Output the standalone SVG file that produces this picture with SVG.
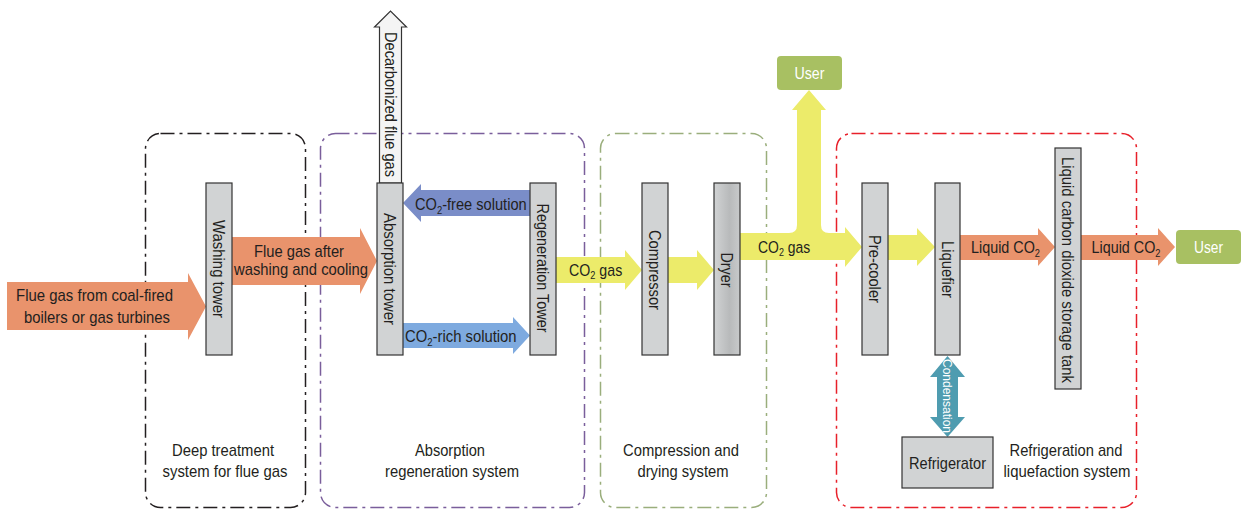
<svg xmlns="http://www.w3.org/2000/svg" width="1241" height="510" viewBox="0 0 1241 510">
<style>
.t{font-family:"Liberation Sans Narrow","Liberation Sans",Arial,sans-serif;font-size:17px;fill:#231f20;text-anchor:middle}
.s{text-anchor:start}
.w{fill:#ffffff}
.tower{fill:#d1d3d4;stroke:#333333;stroke-width:1.2}
.grp{fill:none;stroke-width:1.5;stroke-dasharray:14 5 3 5}
.or{fill:#e9936c}
.ye{fill:#eceb6a}
.sub{font-size:11px}
</style>
<defs>
<linearGradient id="dryg" x1="0" x2="1" y1="0" y2="0">
<stop offset="0" stop-color="#d1d3d4"/><stop offset="0.6" stop-color="#b8babb"/><stop offset="1" stop-color="#c8cacb"/>
</linearGradient>
</defs>
<rect width="1241" height="510" fill="#ffffff"/>

<g id="groups">
<rect id="g-deep" class="grp" x="145.5" y="133.5" width="160" height="374" rx="15" stroke="#231f20"/>
<rect id="g-abs" class="grp" x="320.5" y="133.5" width="264" height="374" rx="15" stroke="#7a5e9b"/>
<rect id="g-comp" class="grp" x="600.5" y="133.5" width="166" height="374" rx="15" stroke="#9aae7c"/>
<rect id="g-refr" class="grp" x="836.5" y="133.5" width="300" height="374" rx="15" stroke="#e8202a"/>
<text class="t" x="223" y="456" textLength="102" lengthAdjust="spacingAndGlyphs">Deep treatment</text>
<text class="t" x="225" y="477" textLength="125" lengthAdjust="spacingAndGlyphs">system for flue gas</text>
<text class="t" x="450" y="456" textLength="70" lengthAdjust="spacingAndGlyphs">Absorption</text>
<text class="t" x="452" y="477" textLength="134" lengthAdjust="spacingAndGlyphs">regeneration system</text>
<text class="t" x="681" y="456" textLength="116" lengthAdjust="spacingAndGlyphs">Compression and</text>
<text class="t" x="683" y="477" textLength="91" lengthAdjust="spacingAndGlyphs">drying system</text>
<text class="t" x="1066" y="456" textLength="113" lengthAdjust="spacingAndGlyphs">Refrigeration and</text>
<text class="t" x="1067" y="477" textLength="127" lengthAdjust="spacingAndGlyphs">liquefaction system</text>
</g>

<g id="connectors">
<g id="c-input"><polygon class="or" points="7,282 188,282 188,273 206,306.5 188,340 188,330 7,330"/>
<text class="t" x="94.5" y="301" textLength="157" lengthAdjust="spacingAndGlyphs">Flue gas from coal-fired</text>
<text class="t" x="97" y="323" textLength="146" lengthAdjust="spacingAndGlyphs">boilers or gas turbines</text></g>
<g id="c-washed"><polygon class="or" points="232,237 360,237 360,228 377,261 360,294 360,285 232,285"/>
<text class="t" x="299" y="257" textLength="90" lengthAdjust="spacingAndGlyphs">Flue gas after</text>
<text class="t" x="301" y="275" textLength="134" lengthAdjust="spacingAndGlyphs">washing and cooling</text></g>
<g id="c-decarb"><polygon fill="#f4f4f4" stroke="#333333" stroke-width="1.2" points="379.5,183 379.5,27 374.5,27 390.5,11 406.5,27 401.5,27 401.5,183"/>
<text class="t" transform="translate(390.5,104.5) rotate(90)" y="6" textLength="145" lengthAdjust="spacingAndGlyphs">Decarbonized flue gas</text></g>
<g id="c-free"><polygon fill="#7a8dc8" points="530,190 421,190 421,184 403,203 421,222 421,216 530,216"/>
<text class="t s" transform="translate(415,210) scale(0.86,1)">CO<tspan class="sub" dy="4">2</tspan><tspan dy="-4">-free solution</tspan></text></g>
<g id="c-rich"><polygon fill="#7eaadf" points="403,323 513,323 513,317 530,335.5 513,354 513,348 403,348"/>
<text class="t s" transform="translate(405,342) scale(0.873,1)">CO<tspan class="sub" dy="4">2</tspan><tspan dy="-4">-rich solution</tspan></text></g>
<g id="c-gas1"><polygon class="ye" points="556,257 625,257 625,250 642,270 625,290 625,283 556,283"/>
<text class="t s" transform="translate(569,276) scale(0.835,1)">CO<tspan class="sub" dy="3">2</tspan><tspan dy="-3"> gas</tspan></text></g>
<g id="c-gas2"><polygon class="ye" points="668,257 697,257 697,250 714,270 697,290 697,283 668,283"/></g>
<g id="c-gas3"><path class="ye" d="M740,233 L789,233 Q797,233 797,225 L797,110 L792,110 L809,90 L826,110 L821,110 L821,225 Q821,233 829,233 L845,233 L845,227 L862,247 L845,267 L845,260 L740,260 Z"/>
<text class="t s" transform="translate(758,253) scale(0.82,1)">CO<tspan class="sub" dy="3">2</tspan><tspan dy="-3"> gas</tspan></text></g>
<g id="c-gas4"><polygon class="ye" points="888,235 917,235 917,228 935,247 917,266 917,260 888,260"/></g>
<g id="c-liq1"><polygon class="or" points="960,235 1038,235 1038,228 1055,247 1038,266 1038,260 960,260"/>
<text class="t s" transform="translate(971,253) scale(0.845,1)">Liquid CO<tspan class="sub" dy="4">2</tspan></text></g>
<g id="c-liq2"><polygon class="or" points="1081,235 1158,235 1158,228 1175,247 1158,266 1158,260 1081,260"/>
<text class="t s" transform="translate(1091.5,253) scale(0.845,1)">Liquid CO<tspan class="sub" dy="4">2</tspan></text></g>
<g id="c-cond"><polygon fill="#4f9cb0" points="947.5,356 965,377 958,377 958,417 965,417 947.5,437 930,417 937,417 937,377 930,377"/>
<text class="t w" style="font-size:13px" transform="translate(947.5,396) rotate(90)" y="4.5" textLength="74" lengthAdjust="spacingAndGlyphs">Condensation</text></g>
</g>

<g id="n-washing"><rect class="tower" x="206" y="183" width="26" height="172"/>
<text class="t" transform="translate(219,269) rotate(90)" y="6" textLength="98" lengthAdjust="spacingAndGlyphs">Washing tower</text></g>
<g id="n-absorption"><rect class="tower" x="377" y="183" width="26" height="172"/>
<text class="t" transform="translate(390,269) rotate(90)" y="6" textLength="112" lengthAdjust="spacingAndGlyphs">Absorption tower</text></g>
<g id="n-regeneration"><rect class="tower" x="530" y="183" width="26" height="172"/>
<text class="t" transform="translate(543,268) rotate(90)" y="6" textLength="129" lengthAdjust="spacingAndGlyphs">Regeneration Tower</text></g>
<g id="n-compressor"><rect class="tower" x="642" y="183" width="26" height="172"/>
<text class="t" transform="translate(655,270) rotate(90)" y="6" textLength="80" lengthAdjust="spacingAndGlyphs">Compressor</text></g>
<g id="n-dryer"><rect class="tower" x="714" y="183" width="26" height="172" style="fill:url(#dryg)"/>
<text class="t" transform="translate(727,270) rotate(90)" y="6" textLength="35" lengthAdjust="spacingAndGlyphs">Dryer</text></g>
<g id="n-precooler"><rect class="tower" x="862" y="183" width="26" height="172"/>
<text class="t" transform="translate(875,269) rotate(90)" y="6" textLength="68" lengthAdjust="spacingAndGlyphs">Pre-cooler</text></g>
<g id="n-liquefier"><rect class="tower" x="935" y="183" width="25" height="172"/>
<text class="t" transform="translate(947.5,269.5) rotate(90)" y="6" textLength="57" lengthAdjust="spacingAndGlyphs">Liquefier</text></g>
<g id="n-tank"><rect class="tower" x="1055" y="148" width="26" height="241"/>
<text class="t" transform="translate(1068,270) rotate(90)" y="6" textLength="226" lengthAdjust="spacingAndGlyphs">Liquid carbon dioxide storage tank</text></g>
<g id="n-refrigerator"><rect class="tower" x="902" y="437" width="91" height="51"/>
<text class="t" x="947.5" y="469" textLength="77" lengthAdjust="spacingAndGlyphs">Refrigerator</text></g>
<g id="n-user1"><rect x="777" y="56" width="65" height="34" rx="4" fill="#a8c062"/>
<text class="t w" x="809.5" y="79" textLength="30" lengthAdjust="spacingAndGlyphs">User</text></g>
<g id="n-user2"><rect x="1176" y="230" width="65" height="34" rx="4" fill="#a8c062"/>
<text class="t w" x="1208.5" y="253" textLength="29" lengthAdjust="spacingAndGlyphs">User</text></g>
</svg>
